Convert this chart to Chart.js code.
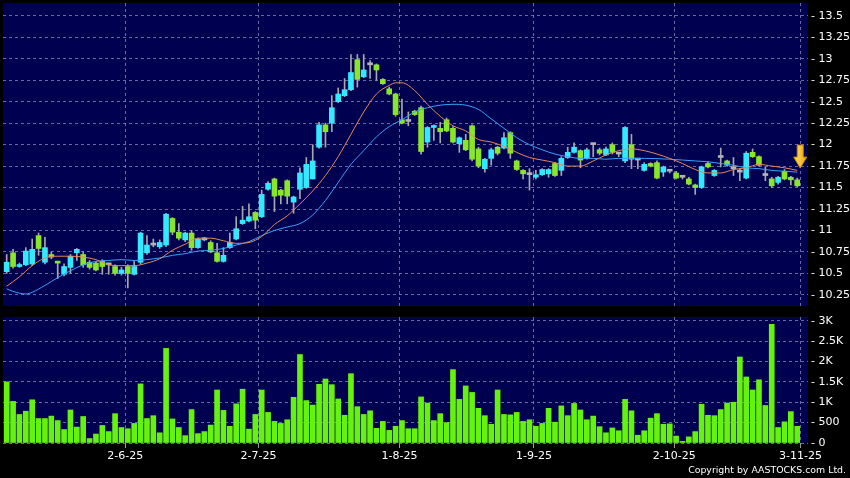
<!DOCTYPE html>
<html>
<head>
<meta charset="utf-8">
<title>Daily chart</title>
<script src="https://cdn.jsdelivr.net/npm/chart.js"></script>
<style>
  body { margin: 0; background: #000; }
  #wrap { position: relative; width: 850px; height: 478px; background: #000; overflow: hidden; }
  #priceChart { position: absolute; left: 0; top: 0; }
  #volChart { position: absolute; left: 0; top: 310px; }
  #copy { position: absolute; right: 4px; top: 464px; color: #fff; font: 9.4px "DejaVu Sans", sans-serif; line-height: 12px; white-space: nowrap; }
</style>
</head>
<body>
<div id="wrap">
  <canvas id="priceChart" width="850" height="310"></canvas>
  <canvas id="volChart" width="850" height="168"></canvas>
  <div id="copy">Copyright by AASTOCKS.com Ltd.</div>
</div>

<script>
// daily OHLC, one entry per trading day (index 0 = first day shown)
const openP = [
  10.52,10.74,10.58,10.60,10.61,10.94,10.63,10.72,10.63,10.49,
  10.57,10.74,10.72,10.63,10.62,10.64,10.60,10.58,10.50,10.58,
  10.49,10.63,10.74,10.83,10.81,10.83,11.14,10.98,10.89,10.97,
  10.80,10.89,10.86,10.74,10.64,10.80,10.90,11.08,11.11,11.21,
  11.16,11.48,11.60,11.47,11.58,11.33,11.48,11.50,11.60,11.97,
  12.23,12.25,12.50,12.57,12.64,12.99,12.79,12.93,12.93,12.76,
  12.65,12.59,12.29,12.27,12.39,12.43,12.03,12.20,12.19,12.29,
  12.19,12.01,12.05,12.22,11.95,11.72,11.84,11.97,11.96,12.14,
  11.81,11.70,11.65,11.62,11.65,11.66,11.78,11.70,11.85,11.91,
  11.93,11.84,12.00,11.94,11.88,12.00,11.89,11.81,12.00,11.82,
  11.70,11.78,11.79,11.68,11.69,11.67,11.62,11.60,11.53,11.50,
  11.78,11.64,11.85,11.81,11.72,11.68,11.61,11.91,11.86,11.64,
  11.60,11.56,11.69,11.62,11.59
];
const highP = [
  10.72,10.78,10.62,10.80,10.90,10.97,10.92,10.75,10.64,10.61,
  10.72,10.79,10.75,10.65,10.64,10.66,10.61,10.60,10.57,10.60,
  10.64,10.98,10.94,10.90,10.89,11.20,11.15,11.08,10.98,11.00,
  10.91,10.92,10.88,10.85,10.80,10.97,11.16,11.28,11.31,11.22,
  11.47,11.57,11.61,11.48,11.59,11.40,11.73,11.85,12.00,12.26,
  12.25,12.57,12.66,12.77,13.05,13.05,13.05,12.98,12.94,12.77,
  12.67,12.60,12.53,12.38,12.40,12.45,12.21,12.23,12.26,12.31,
  12.21,12.09,12.12,12.23,11.97,11.84,11.96,11.98,12.14,12.15,
  11.82,11.71,11.72,11.70,11.72,11.72,11.79,11.86,11.97,12.02,
  11.94,11.96,12.01,11.96,11.97,12.02,11.91,12.21,12.12,11.84,
  11.79,11.79,11.81,11.75,11.71,11.69,11.63,11.62,11.54,11.75,
  11.80,11.71,11.96,11.82,11.85,11.72,11.92,11.95,11.87,11.74,
  11.62,11.63,11.71,11.63,11.61
];
const lowP = [
  10.50,10.56,10.57,10.59,10.59,10.71,10.61,10.67,10.44,10.47,
  10.50,10.65,10.57,10.55,10.53,10.49,10.49,10.48,10.48,10.33,
  10.48,10.61,10.72,10.81,10.79,10.81,10.95,10.89,10.87,10.77,
  10.79,10.88,10.74,10.63,10.63,10.79,10.89,11.07,11.10,11.02,
  11.15,11.47,11.22,11.31,11.31,11.20,11.37,11.49,11.60,11.96,
  11.97,12.15,12.49,12.56,12.63,12.67,12.78,12.77,12.75,12.70,
  12.58,12.33,12.24,12.22,12.34,11.89,11.97,12.05,12.02,12.15,
  12.02,11.91,11.93,11.81,11.73,11.68,11.76,11.88,11.95,11.84,
  11.70,11.60,11.47,11.60,11.64,11.62,11.63,11.64,11.84,11.90,
  11.73,11.83,11.86,11.88,11.87,11.89,11.86,11.79,11.72,11.72,
  11.69,11.74,11.60,11.63,11.67,11.60,11.60,11.53,11.42,11.49,
  11.73,11.63,11.74,11.75,11.64,11.58,11.60,11.85,11.75,11.58,
  11.50,11.54,11.59,11.53,11.51
];
const closeP = [
  10.63,10.58,10.60,10.76,10.78,10.79,10.80,10.69,10.62,10.58,
  10.70,10.78,10.60,10.57,10.54,10.58,10.60,10.50,10.54,10.50,
  10.58,10.97,10.83,10.83,10.86,11.19,10.98,10.91,10.97,10.80,
  10.90,10.90,10.75,10.64,10.71,10.86,11.02,11.12,11.16,11.12,
  11.42,11.55,11.40,11.41,11.40,11.39,11.67,11.77,11.81,12.23,
  12.15,12.43,12.59,12.64,12.84,12.76,12.87,12.93,12.87,12.71,
  12.59,12.35,12.25,12.27,12.35,11.92,12.20,12.22,12.15,12.16,
  12.03,12.08,11.94,11.83,11.75,11.83,11.94,11.90,12.08,11.90,
  11.71,11.66,11.65,11.65,11.71,11.71,11.64,11.84,11.91,11.97,
  11.82,11.94,12.00,11.90,11.95,11.91,11.89,12.20,11.83,11.82,
  11.77,11.75,11.61,11.74,11.69,11.61,11.62,11.54,11.50,11.74,
  11.74,11.70,11.85,11.76,11.72,11.68,11.90,11.86,11.76,11.64,
  11.52,11.62,11.60,11.59,11.52
];
const volume = [
  1500,1020,700,780,1060,600,600,660,550,330,
  810,390,650,110,220,430,280,720,380,350,
  480,1450,600,670,250,2320,590,380,180,820,
  230,280,440,1300,800,410,960,1320,340,700,
  1300,750,530,480,570,1120,2170,1040,930,1440,
  1570,1430,1080,680,1700,890,700,790,360,530,
  310,410,550,350,350,1130,980,550,720,500,
  1800,1070,1400,1240,850,670,460,1300,700,690,
  750,530,570,410,480,850,510,910,670,970,
  810,570,660,400,250,370,300,1070,790,190,
  300,610,720,460,470,170,40,150,280,950,
  680,670,820,980,1000,2110,1620,1300,1550,920,
  2910,380,520,770,410
];
// moving averages: [day index, value]
const maShort = [
  [0,10.35],[2,10.46],[4,10.59],[6,10.68],[8,10.70],[10,10.70],[12,10.69],[14,10.66],
  [16,10.60],[18,10.59],[20,10.59],[22,10.62],[24,10.67],[26,10.77],[28,10.84],[30,10.91],
  [32,10.91],[34,10.88],[36,10.85],[38,10.86],[40,10.93],[42,11.07],[44,11.17],[46,11.31],
  [48,11.46],[50,11.64],[52,11.86],[54,12.12],[56,12.38],[58,12.59],[60,12.69],[61,12.72],
  [62,12.72],[64,12.63],[66,12.47],[68,12.33],[70,12.22],[72,12.16],[74,12.06],[76,12.03],
  [78,11.98],[80,11.91],[82,11.85],[84,11.82],[86,11.79],[88,11.75],[90,11.75],[92,11.81],
  [94,11.88],[96,11.93],[98,11.95],[100,11.93],[102,11.89],[104,11.84],[106,11.78],[108,11.71],
  [110,11.67],[112,11.67],[114,11.71],[116,11.73],[118,11.77],[120,11.75],[122,11.73],[124,11.70]
];
const maLong = [
  [0,10.32],[1,10.29],[2,10.27],[3,10.26],[4,10.28],[6,10.36],[8,10.45],[10,10.53],
  [12,10.60],[14,10.64],[16,10.65],[18,10.66],[20,10.65],[22,10.66],[24,10.68],[26,10.71],
  [28,10.73],[30,10.76],[32,10.77],[34,10.79],[36,10.83],[38,10.87],[40,10.94],[42,11.00],
  [44,11.04],[46,11.08],[48,11.18],[50,11.35],[52,11.56],[54,11.77],[56,11.93],[58,12.09],
  [60,12.21],[62,12.29],[64,12.38],[66,12.43],[68,12.46],[70,12.47],[72,12.46],[74,12.41],
  [76,12.30],[78,12.19],[80,12.08],[82,12.00],[84,11.94],[86,11.89],[88,11.86],[90,11.84],
  [92,11.84],[94,11.83],[96,11.84],[98,11.84],[100,11.84],[104,11.83],[108,11.81],[110,11.80],
  [112,11.78],[114,11.76],[116,11.73],[118,11.72],[120,11.70],[122,11.69],[124,11.68]
];
// date ticks (position in day units) and their labels
const tickPos = [18.6, 39.5, 61.6, 82.7, 104.7, 124.5];
const tickLabels = ['2-6-25', '2-7-25', '1-8-25', '1-9-25', '2-10-25', '3-11-25'];
const priceTicks = [10.25,10.5,10.75,11,11.25,11.5,11.75,12,12.25,12.5,12.75,13,13.25,13.5];
const volTicks = [0, 500, 1000, 1500, 2000, 2500, 3000];

const NAVY = '#000050';
const GRID = 'rgba(140,140,185,0.75)';
const UP = '#33e8ff';
const DOWN = '#8ae62a';
const FLAT = '#b4b4b4';
const FONT = { family: 'DejaVu Sans', size: 11 };
const X_MIN = -0.58, X_MAX = 125.69;

const days = closeP.map((c, i) => i);
const bodyColors = days.map(i =>
  closeP[i] > openP[i] ? UP : (closeP[i] < openP[i] ? DOWN : FLAT));

const panelBg = {
  id: 'panelBg',
  beforeDraw(chart) {
    const { ctx, chartArea: a } = chart;
    ctx.save();
    ctx.fillStyle = NAVY;
    ctx.fillRect(a.left, a.top, a.right - a.left, a.bottom - a.top);
    ctx.restore();
  }
};

// the yellow marker above the latest candle
const lastArrow = {
  id: 'lastArrow',
  afterDatasetsDraw(chart) {
    const { ctx, scales } = chart;
    const last = closeP.length - 1;
    const cx = scales.x.getPixelForValue(last) + 3;
    const tip = scales.y.getPixelForValue(highP[last]) - 10;
    ctx.save();
    ctx.beginPath();
    ctx.moveTo(cx - 3, tip - 23);
    ctx.lineTo(cx + 3, tip - 23);
    ctx.lineTo(cx + 3, tip - 11);
    ctx.lineTo(cx + 6.5, tip - 11);
    ctx.lineTo(cx, tip);
    ctx.lineTo(cx - 6.5, tip - 11);
    ctx.lineTo(cx - 3, tip - 11);
    ctx.closePath();
    const g = ctx.createLinearGradient(cx - 7, 0, cx + 7, 0);
    g.addColorStop(0, '#ffe27a');
    g.addColorStop(1, '#f0a400');
    ctx.fillStyle = g;
    ctx.fill();
    ctx.strokeStyle = '#c98a00';
    ctx.lineWidth = 1;
    ctx.stroke();
    ctx.restore();
  }
};

function xAxis(showLabels) {
  return {
    type: 'linear',
    min: X_MIN,
    max: X_MAX,
    offset: false,
    afterBuildTicks: s => { s.ticks = tickPos.map(v => ({ value: v })); },
    afterFit: s => {
      s.height = showLabels ? 35 : 0;
      s.paddingLeft = 0;
      s.paddingRight = 0;
    },
    border: { display: false, dash: [3, 3] },
    grid: {
      offset: false,
      color: GRID,
      tickColor: '#9a9a9a',
      tickLength: 5,
      drawTicks: showLabels
    },
    ticks: {
      display: showLabels,
      autoSkip: false,
      maxRotation: 0,
      padding: 2,
      color: '#fff',
      font: FONT,
      callback: (v, i) => tickLabels[i]
    }
  };
}

function yAxis(min, max, ticks, fmt) {
  return {
    position: 'right',
    min: min,
    max: max,
    afterBuildTicks: s => { s.ticks = ticks.map(v => ({ value: v })); },
    afterFit: s => {
      s.width = 42;
      s.paddingTop = 0;
      s.paddingBottom = 0;
    },
    border: { display: false, dash: [3, 3] },
    grid: { color: GRID, drawTicks: false },
    ticks: {
      autoSkip: false,
      padding: 3,
      color: '#fff',
      font: FONT,
      callback: v => '- ' + fmt(v)
    }
  };
}

new Chart(document.getElementById('priceChart'), {
  data: {
    datasets: [
      {
        type: 'line',
        label: 'MA short',
        data: maShort.map(p => ({ x: p[0], y: p[1] })),
        borderColor: '#e8895a',
        borderWidth: 1,
        pointRadius: 0,
        cubicInterpolationMode: 'monotone',
        order: 0
      },
      {
        type: 'line',
        label: 'MA long',
        data: maLong.map(p => ({ x: p[0], y: p[1] })),
        borderColor: '#3aa2ff',
        borderWidth: 1,
        pointRadius: 0,
        cubicInterpolationMode: 'monotone',
        order: 0
      },
      {
        type: 'bar',
        label: 'body',
        data: days.map(i => ({ x: i, y: [openP[i], closeP[i]] })),
        backgroundColor: bodyColors,
        barThickness: 5,
        minBarLength: 2,
        grouped: false,
        order: 1
      },
      {
        type: 'bar',
        label: 'range',
        data: days.map(i => ({ x: i, y: [lowP[i], highP[i]] })),
        backgroundColor: '#a8a8a8',
        barThickness: 1,
        grouped: false,
        order: 2
      }
    ]
  },
  options: {
    responsive: false,
    animation: false,
    layout: { padding: { left: 3, top: 3, right: 0, bottom: 4 } },
    plugins: { legend: { display: false }, tooltip: { enabled: false } },
    scales: {
      x: xAxis(false),
      y: yAxis(10.12, 13.65, priceTicks, v => String(Math.round(v * 100) / 100))
    }
  },
  plugins: [panelBg, lastArrow]
});

new Chart(document.getElementById('volChart'), {
  type: 'bar',
  data: {
    datasets: [{
      label: 'Volume',
      data: days.map(i => ({ x: i, y: volume[i] })),
      backgroundColor: '#66f20f',
      barThickness: 5
    }]
  },
  options: {
    responsive: false,
    animation: false,
    layout: { padding: { left: 3, top: 7, right: 0, bottom: 0 } },
    plugins: { legend: { display: false }, tooltip: { enabled: false } },
    scales: {
      x: xAxis(true),
      y: yAxis(0, 3090, volTicks, v => v >= 1000 ? (v / 1000) + 'K' : String(v))
    }
  },
  plugins: [panelBg]
});
</script>
</body>
</html>
